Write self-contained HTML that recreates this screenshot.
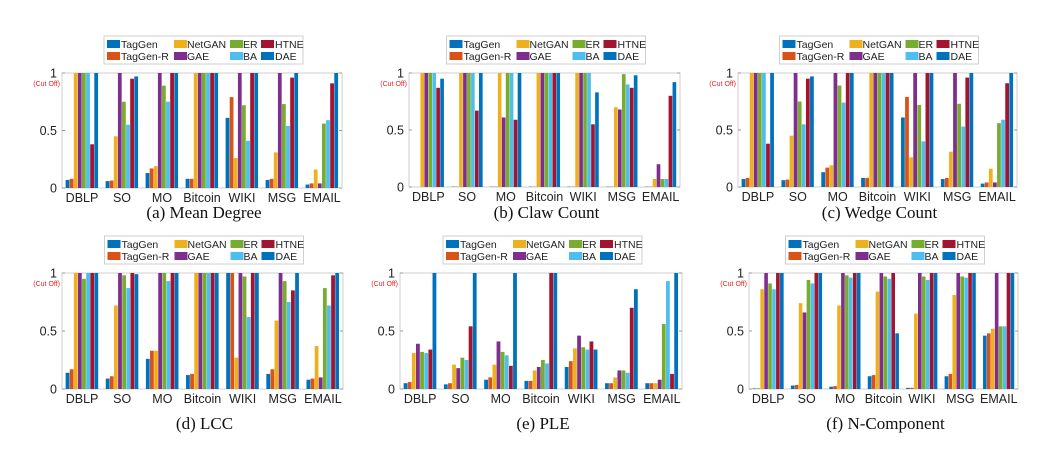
<!DOCTYPE html>
<html><head><meta charset="utf-8">
<style>
html,body{margin:0;padding:0;background:#fff;}
svg{display:block;}
text{font-family:"Liberation Sans",sans-serif;}
.cap{font-family:"Liberation Serif",serif;font-size:17px;fill:#111;}
</style></head>
<body>
<svg id="chart" width="1064" height="456" viewBox="0 0 1064 456"></svg>
<script>
const categories=["DBLP","SO","MO","Bitcoin","WIKI","MSG","EMAIL"];
const seriesNames=["TagGen","TagGen-R","NetGAN","GAE","ER","BA","HTNE","DAE"];
const yTicks=[0,0.5,1];
const yTickLabels=["0","0.5","1"];
const meanDegree=[[.07,.08,1,1,1,1,.38,1],[.06,.065,.45,1,.75,.55,.95,.97],[.13,.17,.19,1,.89,.75,1,1],[.08,.08,1,1,1,1,1,1],[.61,.79,.26,1,.72,.41,1,1],[.07,.08,.31,1,.73,.54,.96,1],[.03,.04,.16,.04,.56,.59,.91,1]];
const clawCount=[[0,0,1,1,1,1,.87,.95],[.003,.003,1,1,1,1,.67,1],[.003,.003,1,.61,1,1,.59,1],[.003,.003,1,1,1,1,1,1],[.003,.003,1,1,1,1,.55,.83],[.003,.003,.70,.68,.99,.9,.87,.98],[.003,.003,.07,.2,.07,.07,.8,.92]];
const wedgeCount=[[.07,.08,1,1,1,1,.38,1],[.06,.065,.45,1,.75,.55,.95,.97],[.13,.17,.19,1,.89,.74,1,1],[.08,.08,1,1,1,1,1,1],[.61,.79,.26,1,.72,.40,1,1],[.07,.08,.31,1,.73,.53,.96,1],[.03,.04,.16,.04,.56,.59,.91,1]];
const lcc=[[.14,.17,1,1,.95,1,1,1],[.09,.11,.72,1,.98,.87,1,.99],[.26,.33,.33,1,1,.93,1,1],[.12,.13,1,1,1,1,1,1],[1,1,.27,1,.97,.62,1,1],[.13,.17,.59,1,.93,.75,.85,1],[.08,.09,.37,.1,.87,.72,.98,1]];
const ple=[[.05,.06,.31,.39,.32,.31,.34,1],[.04,.05,.21,.18,.27,.25,.54,1],[.08,.1,.21,.41,.32,.29,.2,1],[.07,.07,.16,.19,.25,.22,1,1],[.19,.24,.35,.46,.36,.34,.41,.34],[.05,.05,.1,.16,.16,.14,.7,.86],[.05,.05,.05,.08,.56,.93,.13,1]];
const nComponent=[[.005,.005,.86,1,.91,.86,1,1],[.03,.035,.74,.66,.94,.91,1,1],[.02,.025,.72,1,.98,.96,1,1],[.11,.12,.84,1,.97,.95,1,.48],[.01,.01,.65,1,.97,.94,1,1],[.11,.13,.81,1,.97,.96,1,1],[.46,.48,.52,1,.54,.54,1,1]];
const captions=["(a) Mean Degree","(b) Claw Count","(c) Wedge Count","(d) LCC","(e) PLE","(f) N-Component"];

const colors=["#0072BD","#D95319","#EDB120","#7E2F8E","#77AC30","#4DBEEE","#A2142F","#0072BD"];
const panels=[
 {data:meanDegree,l:62,r:342,t:73,b:188,cap:30,key:"mean-degree"},
 {data:clawCount,l:409,r:680,t:73,b:187,cap:31,key:"claw-count"},
 {data:wedgeCount,l:738,r:1017,t:73,b:187,cap:31,key:"wedge-count"},
 {data:lcc,l:62,r:343,t:273,b:389,cap:40,key:"lcc"},
 {data:ple,l:400,r:682,t:273,b:389,cap:40,key:"ple"},
 {data:nComponent,l:749,r:1018,t:273,b:389,cap:40,key:"n-component"}
];
const NS="http://www.w3.org/2000/svg";
const svg=document.getElementById('chart');
function mk(tag,attrs,parent){const e=document.createElementNS(NS,tag);for(const k in attrs)e.setAttribute(k,attrs[k]);(parent||svg).appendChild(e);return e;}

panels.forEach((p,pi)=>{
 const g=mk('g',{});
 
 
 const y=v=>p.b-(Math.min(v,1))*(p.b-p.t);
 const step=(p.r-p.l)/categories.length;
 const x=i=>p.l+step*(i+0.5);
 const bw=step*0.82/seriesNames.length;
 const fr=mk('rect',{x:p.l,y:p.t,width:p.r-p.l,height:p.b-p.t,fill:'none',stroke:'#cfcfcf','stroke-width':1},g);
 
 
 p.data.forEach((row,ci)=>{
  row.forEach((v,si)=>{
   const bx=x(ci)-step*0.41+si*bw;
   const r=mk('rect',{x:bx.toFixed(2),y:y(v).toFixed(2),width:(bw*0.92).toFixed(2),height:(p.b-y(v)).toFixed(2),fill:colors[si]},g);
   
   
  });
  const t=mk('text',{x:x(ci),y:p.b+14,'font-size':12.5,'text-anchor':'middle',fill:'#222'},g);
  t.textContent=categories[ci];
  
  
 });
 yTicks.forEach((v,i)=>{
  mk('line',{x1:p.l,x2:p.l+3,y1:y(v),y2:y(v),stroke:'#999'},g);
  mk('line',{x1:p.r,x2:p.r-3,y1:y(v),y2:y(v),stroke:'#999'},g);
  const t=mk('text',{x:p.l-5,y:y(v)+4.5,'font-size':12.5,'text-anchor':'end',fill:'#222'},g);
  t.textContent=yTickLabels[i];
  
  
 });
 const co=mk('text',{x:p.l-2,y:p.t+13,'font-size':7,'text-anchor':'end',fill:'#e8231f'},g);
 co.textContent='(Cut Off)';
 
 
 const cx=(p.l+p.r)/2+2, lx=cx-100, ly=p.t-37;
 const lg=mk('g',{},g);
 
 
 mk('rect',{x:lx,y:ly,width:199,height:28,fill:'#fff',stroke:'#cfcfcf'},lg);
 const colX=[3,70,126,157], txtX=[17,83,139,171];
 seriesNames.forEach((n,si)=>{
  const c=Math.floor(si/2), r=si%2;
  const yy=ly+8+r*12;
  const sw=mk('rect',{x:lx+colX[c],y:yy-4,width:13,height:8,fill:colors[si]},lg);
  
  
  const t=mk('text',{x:lx+txtX[c],y:yy+4,'font-size':10.5,fill:'#222'},lg);
  t.textContent=n;
  
  
 });
 const cap=mk('text',{x:cx,y:p.b+p.cap,'text-anchor':'middle','class':'cap'},g);
 cap.textContent=captions[pi];
 
 
});
</script>
</body></html>
